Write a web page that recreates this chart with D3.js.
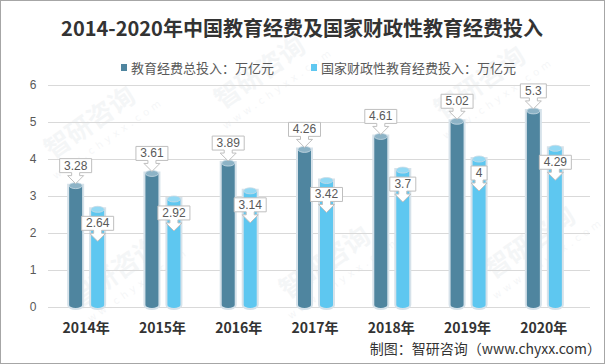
<!DOCTYPE html>
<html>
<head>
<meta charset="utf-8">
<script src="https://cdn.jsdelivr.net/npm/d3@7"></script>
<style>
  body { margin: 0; background: #fff; }
  svg { display: block; }
</style>
</head>
<body>
<svg id="chart" width="605" height="364"></svg>
<script>
// Data
const years = ["2014年", "2015年", "2016年", "2017年", "2018年", "2019年", "2020年"];
const totalValues = [3.28, 3.61, 3.89, 4.26, 4.61, 5.02, 5.3];
const fiscalValues = [2.64, 2.92, 3.14, 3.42, 3.7, 4, 4.29];
const yTicks = [0, 1, 2, 3, 4, 5, 6];
const seriesNames = ["教育经费总投入：万亿元", "国家财政性教育经费投入：万亿元"];

const titleText = "2014-2020年中国教育经费及国家财政性教育经费投入";
const sourceText = "制图：智研咨询（www.chyxx.com）";

// Colours
const darkColor = "#4f859f";
const darkCap = "#8db3c6";
const lightColor = "#5ec7f0";
const lightCap = "#93d9f4";

const cjk = "'Noto Sans CJK SC', 'Noto Sans', sans-serif";

const svg = d3.select("#chart");

// Frame
svg.append("rect")
  .attr("x", 0.5).attr("y", 0.5)
  .attr("width", 604).attr("height", 363)
  .attr("fill", "#fff")
  .attr("stroke", "#a6a6a6");

// Scales
const x = d3.scaleBand().domain(years).range([48, 582]);
const y = d3.scaleLinear().domain([0, 6]).range([307, 85]);

// Watermarks (faint, kept inside the frame)
const marks = [[95, 130], [265, 80], [485, 90], [330, 270], [535, 250], [120, 280]];
marks.forEach(([mx, my]) => {
  const g = svg.append("g")
    .attr("transform", `translate(${mx},${my}) rotate(-35)`)
    .attr("opacity", 0.06);
  g.append("text").attr("x", 0).attr("y", 0)
    .attr("font-family", cjk).attr("font-size", 26).attr("font-weight", "bold")
    .attr("fill", "#5b6f85").attr("text-anchor", "middle")
    .text("智研咨询");
  g.append("text").attr("x", 6).attr("y", 18)
    .attr("font-family", "'DejaVu Sans', sans-serif").attr("font-size", 10)
    .attr("fill", "#5b6f85").attr("text-anchor", "middle")
    .attr("letter-spacing", 4)
    .text("www.chyxx.com");
});

// Gridlines
svg.append("g")
  .selectAll("line")
  .data(yTicks)
  .join("line")
  .attr("x1", 48).attr("x2", 590)
  .attr("y1", (d) => Math.round(y(d)) + 0.5)
  .attr("y2", (d) => Math.round(y(d)) + 0.5)
  .attr("stroke", "#d9d9d9");

// Y axis labels
svg.append("g")
  .selectAll("text")
  .data(yTicks)
  .join("text")
  .attr("x", 33)
  .attr("y", (d) => y(d) + 4)
  .attr("text-anchor", "middle")
  .attr("font-family", "'Liberation Sans', Arial, sans-serif")
  .attr("font-size", 12)
  .attr("fill", "#595959")
  .text((d) => d);

// Cylinder bars
const barW = 13;
const capR = 3;

function cylinderPath(cx, top, bottom, w) {
  const r = w / 2;
  return `M${cx - r},${top} L${cx - r},${bottom - capR}` +
    ` A${r},${capR} 0 0 0 ${cx + r},${bottom - capR}` +
    ` L${cx + r},${top} Z`;
}

function drawBars(values, offset, fill, cap) {
  const g = svg.append("g");
  const data = values.map((v, i) => ({ year: years[i], value: v }));
  const cx = (d) => x(d.year) + x.bandwidth() / 2 + offset;

  // soft outline
  g.selectAll("path.glow")
    .data(data)
    .join("path")
    .attr("class", "glow")
    .attr("d", (d) => cylinderPath(cx(d), y(d.value), y(0) + 1, barW))
    .attr("fill", "none")
    .attr("stroke", "#d6e2ea")
    .attr("stroke-width", 4);

  g.selectAll("path.body")
    .data(data)
    .join("path")
    .attr("class", "body")
    .attr("d", (d) => cylinderPath(cx(d), y(d.value), y(0) + 1, barW))
    .attr("fill", fill);

  g.selectAll("ellipse.cap")
    .data(data)
    .join("ellipse")
    .attr("class", "cap")
    .attr("cx", cx)
    .attr("cy", (d) => y(d.value))
    .attr("rx", barW / 2)
    .attr("ry", capR)
    .attr("fill", cap)
    .attr("stroke", "#c9dbe5")
    .attr("stroke-width", 0.8);

  return { data, cx };
}

const darkBars = drawBars(totalValues, -10.5, darkColor, darkCap);
const lightBars = drawBars(fiscalValues, 11.5, lightColor, lightCap);

// Callout labels (box with down arrow)
function calloutPath(cx, boxTop, w) {
  const h = 14, stemH = 3, headH = 8, stemW = 4, headW = 8;
  const l = cx - w / 2, r = cx + w / 2, b = boxTop + h;
  return `M${l},${boxTop} L${r},${boxTop} L${r},${b}` +
    ` L${cx + stemW},${b} L${cx + stemW},${b + stemH} L${cx + headW},${b + stemH}` +
    ` L${cx},${b + stemH + headH} L${cx - headW},${b + stemH} L${cx - stemW},${b + stemH}` +
    ` L${cx - stemW},${b} L${l},${b} Z`;
}

function drawLabels(bars, above) {
  const g = svg.append("g");
  bars.data.forEach((d) => {
    const cx = bars.cx(d);
    const label = String(d.value);
    const tmp = g.append("text")
      .attr("font-family", "'Liberation Sans', Arial, sans-serif")
      .attr("font-size", 12)
      .text(label);
    const tw = tmp.node().getComputedTextLength();
    tmp.remove();
    const w = Math.round(tw + 9);
    const boxTop = above ? y(d.value) - 2 - 11 - 14 : y(d.value) + 7;
    g.append("path")
      .attr("d", calloutPath(cx, boxTop, w))
      .attr("fill", "#fff")
      .attr("stroke", "#bfbfbf")
      .attr("stroke-width", 1);
    g.append("text")
      .attr("x", cx)
      .attr("y", boxTop + 11)
      .attr("text-anchor", "middle")
      .attr("font-family", "'Liberation Sans', Arial, sans-serif")
      .attr("font-size", 12)
      .attr("fill", "#595959")
      .text(label);
  });
}

drawLabels(darkBars, true);
drawLabels(lightBars, false);

// X axis labels
svg.append("g")
  .selectAll("text")
  .data(years)
  .join("text")
  .attr("x", (d) => x(d) + x.bandwidth() / 2)
  .attr("y", 333)
  .attr("text-anchor", "middle")
  .attr("font-family", cjk)
  .attr("font-size", 14)
  .attr("font-weight", "bold")
  .attr("fill", "#333")
  .text((d) => d);

// Title
svg.append("text")
  .attr("x", 302)
  .attr("y", 36)
  .attr("text-anchor", "middle")
  .attr("font-family", cjk)
  .attr("font-size", 20)
  .attr("font-weight", "bold")
  .attr("fill", "#333")
  .text(titleText);

// Legend
const legendX = [121, 311];
const legendColors = [darkColor, lightColor];
const legend = svg.append("g");
seriesNames.forEach((name, i) => {
  legend.append("rect")
    .attr("x", legendX[i]).attr("y", 64)
    .attr("width", 6).attr("height", 7)
    .attr("fill", legendColors[i]);
  legend.append("text")
    .attr("x", legendX[i] + 10)
    .attr("y", 73)
    .attr("font-family", cjk)
    .attr("font-size", 13)
    .attr("fill", "#595959")
    .text(name);
});

// Source
svg.append("text")
  .attr("x", 601)
  .attr("y", 354)
  .attr("text-anchor", "end")
  .attr("font-family", cjk)
  .attr("font-size", 14)
  .attr("fill", "#333")
  .text(sourceText);
</script>
</body>
</html>
